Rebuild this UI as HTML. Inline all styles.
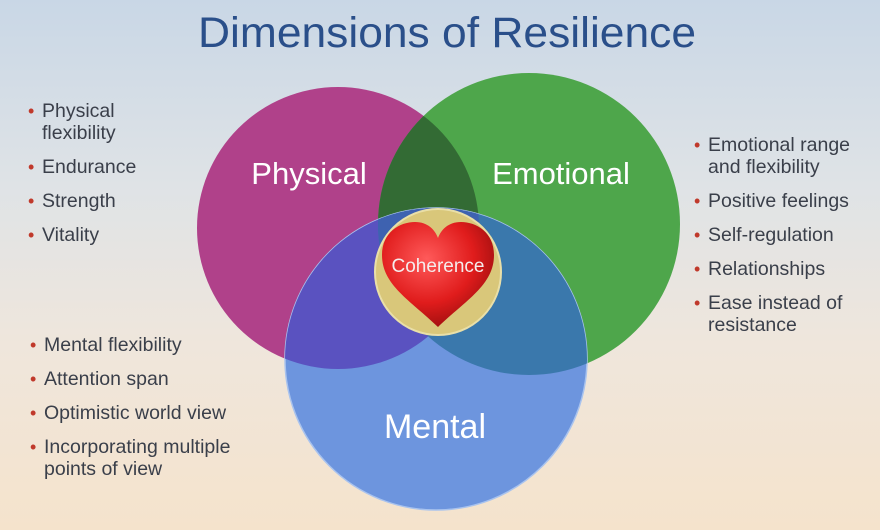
<!DOCTYPE html>
<html><head><meta charset="utf-8"><style>
html,body{margin:0;padding:0;}
body{width:880px;height:530px;overflow:hidden;background:linear-gradient(180deg,#c9d7e6 0%,#dfe3e6 35%,#efe6dc 65%,#f5e3cc 100%);font-family:"Liberation Sans","DejaVu Sans",sans-serif;position:relative;}
.t{position:absolute;color:#3a3f4a;font-size:19.5px;line-height:34px;}
.t div{position:relative;padding-left:14px;}
.t div:before{content:"•";color:#c0392b;position:absolute;left:0;font-size:18px;}
.t div.c{line-height:22px;margin-top:6px;margin-bottom:6px;}
</style></head><body>
<svg width="880" height="530" style="position:absolute;left:0;top:0">
<defs>
<clipPath id="cp"><circle cx="338" cy="228" r="141"/></clipPath>
<clipPath id="ce"><circle cx="529" cy="224" r="151"/></clipPath>
<radialGradient id="hg" cx="40%" cy="35%" r="70%"><stop offset="0" stop-color="#ff5a5a"/><stop offset="0.6" stop-color="#e01c1c"/><stop offset="1" stop-color="#9a0e0e"/></radialGradient>
</defs>
<text x="447" y="47" text-anchor="middle" font-size="43" fill="#2a4f8a" font-family="Liberation Sans, sans-serif" textLength="498" lengthAdjust="spacingAndGlyphs">Dimensions of Resilience</text>
<circle cx="338" cy="228" r="141" fill="#b0418a"/>
<circle cx="529" cy="224" r="151" fill="#4ea64b"/>
<circle cx="529" cy="224" r="151" fill="#336b34" clip-path="url(#cp)"/>
<circle cx="436" cy="359" r="151" fill="#6d95de" stroke="#a9c3ee" stroke-width="1.5"/>
<circle cx="436" cy="359" r="151" fill="#5a52c0" clip-path="url(#cp)"/>
<circle cx="436" cy="359" r="151" fill="#3a78ac" clip-path="url(#ce)"/>
<g clip-path="url(#cp)"><circle cx="436" cy="359" r="151" fill="#3e62b0" clip-path="url(#ce)"/></g>
<circle cx="438" cy="272" r="63" fill="#d9c77a" stroke="#e9dfa8" stroke-width="2"/>
<path d="M438 327 C410 300 382 285 382 255 C382 232 400 222 415 222 C428 222 435 230 438 238 C441 230 448 222 461 222 C476 222 494 232 494 255 C494 285 466 300 438 327Z" fill="url(#hg)"/>
<text x="438" y="272" text-anchor="middle" font-size="19" fill="#f5ecec">Coherence</text>
<text x="309" y="184" text-anchor="middle" font-size="31" fill="#fff">Physical</text>
<text x="561" y="184" text-anchor="middle" font-size="31" fill="#fff">Emotional</text>
<text x="435" y="438" text-anchor="middle" font-size="34" fill="#fff">Mental</text>
</svg>
<div class="t" style="left:28px;top:94px"><div class="c">Physical<br>flexibility</div><div>Endurance</div><div>Strength</div><div>Vitality</div></div>
<div class="t" style="left:694px;top:128px"><div class="c">Emotional range<br>and flexibility</div><div>Positive feelings</div><div>Self-regulation</div><div>Relationships</div><div class="c">Ease instead of<br>resistance</div></div>
<div class="t" style="left:30px;top:328px"><div>Mental flexibility</div><div>Attention span</div><div>Optimistic world view</div><div class="c">Incorporating multiple<br>points of view</div></div>
</body></html>
